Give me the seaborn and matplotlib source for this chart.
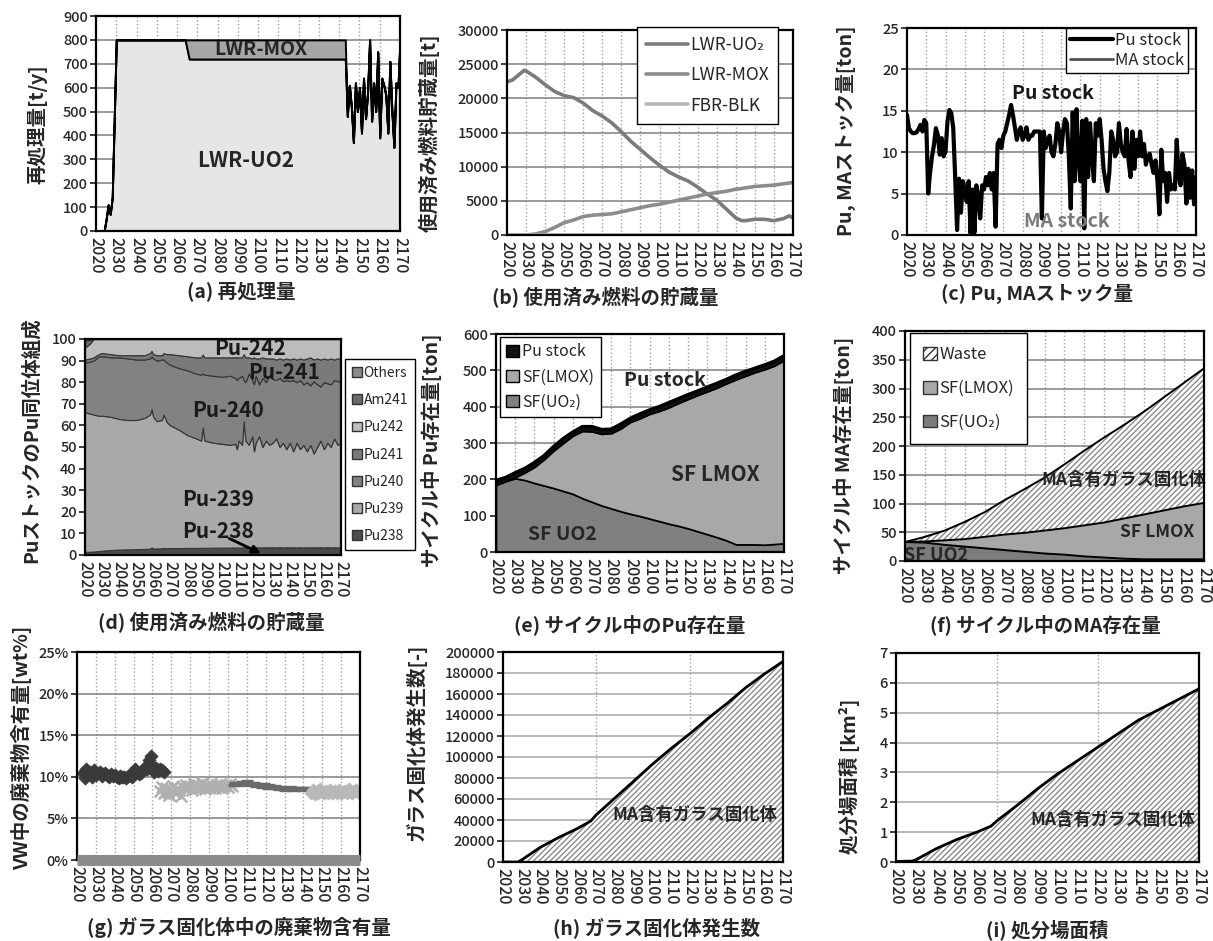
import numpy as np
import matplotlib.pyplot as plt
import seaborn as sns
from matplotlib.patches import Patch

# ---------------- data ----------------
# (a) reprocessing [t/y]
a_years = [2020, 2024, 2025, 2026, 2027, 2028, 2030, 2064, 2066, 2143,
           2144, 2145, 2146, 2147, 2148, 2149, 2150, 2151, 2152, 2153, 2154, 2155, 2156, 2157,
           2158, 2159, 2160, 2161, 2162, 2163, 2164, 2165, 2166, 2167, 2168, 2169, 2170]
a_uo2 = [0, 0, 50, 110, 70, 140, 800, 800, 720, 720,
         480, 610, 520, 370, 620, 500, 600, 410, 640, 470, 580, 800, 460, 620,
         500, 750, 390, 640, 610, 570, 410, 710, 500, 350, 620, 600, 800]
a_mox = [0, 0, 0, 0, 0, 0, 0, 0, 80, 80,
         0, 0, 0, 0, 0, 0, 0, 0, 0, 0, 0, 0, 0, 0,
         0, 0, 0, 0, 0, 0, 0, 0, 0, 0, 0, 0, 0]

# (b) spent fuel storage [t]
b_years = [2020, 2023, 2026, 2029, 2030, 2035, 2040, 2045, 2050, 2055, 2060, 2065, 2070, 2075,
           2080, 2085, 2090, 2095, 2100, 2105, 2110, 2115, 2120, 2125, 2130, 2135, 2140,
           2143, 2145, 2150, 2155, 2160, 2165, 2168, 2170]
b_uo2 = [22400, 22700, 23400, 24100, 24000, 23100, 22000, 21000, 20400, 20100, 19300, 18200,
         17400, 16400, 15100, 13700, 12500, 11300, 10200, 9200, 8500, 7900, 7000, 6000, 5100,
         3800, 2500, 2100, 2100, 2300, 2300, 2100, 2400, 2800, 2500]
b_mox = [0, 0, 0, 0, 0, 150, 500, 1100, 1800, 2200, 2700, 2900, 3000, 3100, 3400, 3700, 4000,
         4300, 4500, 4800, 5100, 5400, 5700, 6000, 6200, 6400, 6700, 6800, 6900, 7100, 7200,
         7300, 7500, 7600, 7700]
b_fbr_years = [2020, 2170]
b_fbr = [0, 0]

# (c) Pu / MA stock [ton], yearly 2020-2170
c_years = list(range(2020, 2171))
c_pu = [14.5, 12.9, 12.5, 12.3, 12.3, 12.4, 12.8, 13.3, 12.5, 13.9,
        13.5, 5.0, 7.6, 9.5, 10.9, 12.9, 12.1, 9.7, 11.7, 9.5,
        10.1, 13.7, 15.1, 14.7, 12.9, 7.0, 0.6, 6.8, 2.7, 6.5,
        5.5, 4.0, 6.5, 0.2, 5.5, 0.3, 6.0, 4.7, 2.0, 6.0,
        5.5, 7.0, 6.0, 7.5, 5.5, 7.5, 1.0, 11.0, 11.5, 10.5,
        12.0, 12.5, 13.5, 14.5, 15.7, 14.5, 13.0, 11.5, 12.5, 13.0,
        11.5, 12.0, 13.0, 11.5, 12.0, 12.0, 12.5, 12.5, 12.5, 12.5,
        2.0, 12.5, 10.5, 11.5, 12.0, 10.0, 9.5, 11.0, 13.5, 12.5,
        10.0, 12.5, 14.0, 13.5, 9.5, 3.2, 14.8, 6.5, 15.2, 9.0,
        6.5, 13.8, 0.8, 14.0, 7.0, 13.5, 9.5, 6.5, 13.5, 12.0,
        14.0, 11.5, 8.0, 6.5, 5.3, 7.5, 12.5, 11.5, 9.5, 10.0,
        13.5, 11.0, 10.0, 9.5, 12.8, 9.0, 7.0, 12.5, 8.0, 11.5,
        9.5, 12.5, 9.5, 11.0, 8.5, 9.5, 9.8, 8.5, 7.5, 9.0,
        6.5, 2.5, 10.3, 6.5, 7.5, 4.0, 7.5, 5.5, 6.0, 5.5,
        11.5, 7.0, 6.0, 9.8, 8.5, 3.8, 8.0, 4.5, 7.8, 3.7, 7.0]
c_ma_years = [2020, 2170]
c_ma = [0.0, 0.0]

# (d) Pu isotope composition of Pu stock [%] (stack boundaries)
d_years = [2020, 2023, 2025, 2028, 2030, 2035, 2040, 2045, 2050, 2055, 2058, 2059, 2060, 2062,
           2065, 2066, 2068, 2070, 2075, 2080, 2085, 2088, 2089, 2090, 2095, 2100, 2105, 2108,
           2109, 2110, 2112, 2113, 2114, 2116, 2118, 2119, 2120, 2122, 2124, 2126, 2128, 2130,
           2132, 2134, 2136, 2138, 2140, 2142, 2144, 2146, 2148, 2150, 2152, 2154, 2156, 2158,
           2160, 2162, 2164, 2166, 2168, 2170]
d_pu238 = [1.5, 1.5, 1.6, 1.8, 2.0, 2.3, 2.5, 2.6, 2.7, 2.8, 2.9, 3.5, 3.0, 3.0, 3.1, 3.2,
           3.1, 3.2, 3.2, 3.3, 3.3, 3.3, 3.4, 3.3, 3.4, 3.4, 3.4, 3.5, 3.4, 3.5, 3.4, 3.6,
           3.4, 3.5, 3.5, 3.4, 3.6, 3.5, 3.5, 3.6, 3.5, 3.6, 3.5, 3.6, 3.5, 3.6, 3.5, 3.6,
           3.5, 3.6, 3.5, 3.6, 3.5, 3.6, 3.5, 3.6, 3.5, 3.6, 3.5, 3.6, 3.5, 3.6]
d_top239 = [66, 65.5, 65, 64.5, 64.5, 64, 63, 62.5, 62.5, 63.5, 65, 67.5, 64, 62, 62.5, 65,
            61.5, 60, 58, 55.5, 54, 53, 59, 53, 52, 51.5, 51, 51.5, 49, 53, 51, 62, 53, 51,
            55, 48, 52, 55, 50, 53, 51, 52, 54, 50, 52, 49, 52, 48, 52, 49, 51, 48, 51, 47,
            50, 53, 49, 52, 50, 54, 51, 52]
d_top240 = [89, 89.5, 90, 92, 92, 91.5, 91.5, 91, 90.5, 90.5, 91, 92, 91, 90, 90.5, 90.5,
            89, 88, 86.5, 85.5, 84, 83.5, 84, 83.5, 83, 82.5, 83, 82, 81, 82, 83, 81, 80, 84,
            81, 79, 83, 79, 82, 80, 83, 81.5, 81, 82, 80.5, 81, 80.5, 81, 80, 81, 79, 80, 78.5,
            80.5, 79, 78, 80, 79.5, 79, 81, 80.5, 80]
d_top241 = [90.5, 91, 91.5, 93, 93.5, 93, 92.5, 92.5, 92.5, 92.5, 93.5, 94.5, 93, 92.5, 92.5,
            93.5, 93, 93, 92.5, 92, 91.5, 91.5, 92.8, 91.5, 91.5, 91.5, 91.5, 91.5, 91.5, 91.5,
            91.5, 93, 91.5, 91.5, 91, 91.5, 91, 91, 91.5, 91, 91, 91, 90.5, 91, 90.5, 91, 90.5,
            91, 90.5, 91, 90.5, 91, 91.5, 90.5, 91, 90.5, 91, 90.5, 91, 90.5, 91, 91]
d_am241 = [3.3, 1.6] + [0.0] * 60
d_others = [0.7, 0.4] + [0.0] * 60

# (e) Pu inventory in cycle [ton]
e_years = [2020, 2025, 2030, 2035, 2040, 2045, 2050, 2055, 2060, 2065, 2070, 2075, 2080, 2085,
           2090, 2095, 2100, 2105, 2110, 2115, 2120, 2125, 2130, 2135, 2140, 2145, 2150, 2155,
           2160, 2165, 2170]
e_uo2 = [185, 195, 203, 198, 190, 183, 176, 168, 160, 148, 138, 128, 120, 112, 105, 99, 92, 85,
         78, 72, 65, 57, 49, 41, 32, 21, 21, 21, 20, 22, 24]
e_lmox = [0, 0, 3, 21, 44, 72, 103, 132, 160, 185, 194, 197, 207, 228, 253, 269, 288, 303, 320,
          338, 356, 375, 393, 411, 432, 454, 464, 474, 483, 491, 504]
e_pu = [12, 10, 12, 11, 12, 10, 11, 12, 10, 12, 13, 12, 11, 12, 10, 12, 11, 12, 13, 12, 12, 11,
        12, 12, 11, 12, 12, 11, 12, 12, 12]

# (f) MA inventory in cycle [ton]
f_years = [2020, 2030, 2040, 2050, 2060, 2070, 2080, 2090, 2100, 2110, 2120, 2130, 2140, 2150,
           2160, 2170]
f_uo2 = [33, 32, 28, 25, 22, 19, 16, 13, 11, 8, 6, 4, 3, 3, 3, 3]
f_lmox = [0, 2, 8, 13, 20, 27, 33, 40, 46, 54, 61, 70, 78, 85, 92, 98]
f_waste = [0, 8, 17, 30, 43, 60, 76, 92, 111, 130, 148, 163, 179, 197, 215, 234]

# (g) waste loading in vitrified waste [wt%]
g1_years = list(range(2023, 2067))
g1 = [10.5, 9.8, 10.9, 10.3, 10.6, 10.0, 10.8, 10.2, 10.4, 10.6, 10.1, 10.3, 10.5, 10.2, 10.0,
      10.3, 10.1, 10.2, 10.0, 9.9, 10.1, 10.0, 10.0, 9.9, 10.1, 10.2, 10.0, 10.4, 10.9, 10.6,
      10.3, 10.5, 10.8, 11.2, 10.9, 12.0, 12.5, 11.3, 10.6, 11.0, 10.7, 10.9, 10.8, 10.6]
g2_years = list(range(2064, 2103))
g2 = [8.3, 8.8, 8.0, 8.6, 8.2, 7.8, 8.5, 8.9, 8.1, 8.6, 8.4, 7.7, 8.8, 8.5, 9.0, 8.6, 8.9, 8.4,
      9.1, 8.7, 9.0, 8.6, 9.2, 8.8, 8.5, 9.0, 8.7, 9.1, 8.8, 8.6, 9.0, 8.8, 9.1, 8.7, 8.9, 9.0,
      8.8, 9.1, 8.9]
g3_years = list(range(2103, 2144))
g3 = [9.0, 9.2, 9.1, 9.3, 9.0, 9.4, 9.2, 9.5, 9.1, 9.3, 9.0, 9.2, 8.9, 9.1, 9.0, 8.8, 9.1, 8.9,
      8.7, 9.0, 8.8, 8.6, 8.9, 8.7, 8.5, 8.8, 8.6, 8.4, 8.7, 8.5, 8.8, 8.6, 8.4, 8.7, 8.5, 8.6,
      8.4, 8.7, 8.5, 8.6, 8.5]
g4_years = list(range(2144, 2170))
g4 = [8.1, 8.4, 7.9, 8.3, 8.0, 8.5, 8.2, 8.0, 8.3, 8.1, 8.4, 8.0, 8.2, 8.3, 8.1, 8.4, 8.0, 8.2,
      8.3, 8.1, 8.5, 8.2, 8.0, 8.3, 8.4, 8.2]
g0_years = [2020, 2170]
g0 = [0.0, 0.0]

# (h) number of vitrified waste canisters, (i) repository area [km2]
hi_years = [2020, 2028, 2030, 2040, 2050, 2060, 2067, 2070, 2080, 2090, 2100, 2110, 2120, 2130,
            2140, 2150, 2160, 2170]
h_count = [0, 0, 2000, 14000, 23500, 32000, 39000, 45000, 61000, 77000, 93000, 108000, 122000,
           137000, 151000, 166000, 179000, 191000]
i_area = [0.02, 0.03, 0.08, 0.45, 0.75, 1.0, 1.2, 1.38, 1.9, 2.45, 2.95, 3.4, 3.85, 4.3, 4.75,
          5.1, 5.45, 5.8]

# ---------------- style ----------------
sns.set_theme(style="white")
plt.rcParams['font.family'] = ['Noto Sans CJK JP', 'DejaVu Sans']
plt.rcParams['hatch.linewidth'] = 1.0
JP = ['Noto Sans CJK JP', 'DejaVu Sans']

W, H = 1213, 941
fig = plt.figure(figsize=(W / 100, H / 100), dpi=100)
fig.patch.set_facecolor('white')


def add_ax(x0, y0, x1, y1):
    return fig.add_axes([x0 / W, 1 - y1 / H, (x1 - x0) / W, (y1 - y0) / H])


def ftext(x, y, s, size=14, rot=0, **kw):
    fig.text(x / W, 1 - y / H, s, ha='center', va='center', fontsize=size,
             fontweight='bold', rotation=rot, zorder=10, **kw)


def style(ax, ymax, ystep, vstep=10, hcol='#7f7f7f'):
    ax.set_xlim(2020, 2170)
    ax.set_ylim(0, ymax)
    yrs = np.arange(2020, 2171, 10)
    ax.set_xticks(yrs)
    ax.set_xticklabels([str(y) for y in yrs], rotation=-90, fontsize=11.5, fontweight='medium')
    ax.set_yticks(np.arange(0, ymax + ystep / 2, ystep))
    for t in ax.get_yticklabels():
        t.set_fontweight('medium')
    ax.tick_params(axis='x', direction='in', length=4, pad=4, color='#555555')
    ax.tick_params(axis='y', direction='out', length=4, labelsize=10.5, pad=2, left=True)
    ax.set_axisbelow(True)
    ax.yaxis.grid(True, color=hcol, lw=1.1, ls='-')
    for yr in range(2020 + vstep, 2170, vstep):
        ax.axvline(yr, color='#a0a0a0', ls=':', lw=1.0, zorder=0.5)
    for sp in ax.spines.values():
        sp.set_color('black')
        sp.set_linewidth(1.6)
        sp.set_zorder(5)
    ax.set_xlabel('')
    ax.set_ylabel('')


def leg_kw(size):
    return dict(frameon=True, fancybox=False, framealpha=1, edgecolor='black',
                prop={'family': JP, 'size': size})


# ---------------- (a) ----------------
ax = add_ax(96, 16, 400, 231)
ax.stackplot(a_years, a_uo2, a_mox, colors=['#e6e6e6', '#a6a6a6'],
             edgecolor='black', linewidth=1.4, zorder=2)
style(ax, 900, 100)
ax.text(2101.5, 758, 'LWR-MOX', ha='center', va='center', fontsize=14, fontweight='bold', zorder=4)
ax.text(2094, 297, 'LWR-UO2', ha='center', va='center', fontsize=15, fontweight='bold', zorder=4)
ftext(37, 124, '再処理量[t/y]', rot=90)
ftext(241, 291, '(a) 再処理量')

# ---------------- (b) ----------------
ax = add_ax(507, 30, 793, 235)
sns.lineplot(x=b_years, y=b_uo2, ax=ax, color='#7b7b7b', lw=2.6, label='LWR-UO₂', estimator=None)
sns.lineplot(x=b_years, y=b_mox, ax=ax, color='#8c8c8c', lw=2.6, label='LWR-MOX', estimator=None)
sns.lineplot(x=b_fbr_years, y=b_fbr, ax=ax, color='#b8b8b8', lw=2.6, label='FBR-BLK', estimator=None)
style(ax, 30000, 5000)
ax.legend(loc='upper right', bbox_to_anchor=(0.948, 1.016), borderaxespad=0,
          handlelength=2.4, handletextpad=0.1, labelspacing=0.7, borderpad=0.55, **leg_kw(12.5))
ftext(429, 133, '使用済み燃料貯蔵量[t]', rot=90)
ftext(605, 298, '(b) 使用済み燃料の貯蔵量')

# ---------------- (c) ----------------
ax = add_ax(907, 28, 1196, 235)
sns.lineplot(x=c_years, y=c_pu, ax=ax, color='black', lw=3.0, label='Pu stock', estimator=None)
sns.lineplot(x=c_ma_years, y=c_ma, ax=ax, color='#505050', lw=2.0, label='MA stock', estimator=None)
style(ax, 25, 5)
ax.legend(loc='upper right', bbox_to_anchor=(0.973, 1.0), borderaxespad=0,
          handlelength=2.6, handletextpad=0.1, labelspacing=0.15, borderpad=0.25, **leg_kw(12))
ax.text(2096, 17.1, 'Pu stock', ha='center', va='center', fontsize=14, fontweight='bold', color='#1a1a1a')
ax.text(2103, 1.6, 'MA stock', ha='center', va='center', fontsize=14, fontweight='bold', color='#7a7a7a')
ftext(846, 131, 'Pu, MAストック量[ton]', rot=90)
ftext(1037, 294, '(c) Pu, MAストック量')

# ---------------- (d) ----------------
ax = add_ax(85, 339, 341, 555)
pu238 = np.array(d_pu238)
pu239 = np.array(d_top239) - pu238
pu240 = np.array(d_top240) - np.array(d_top239)
pu241 = np.array(d_top241) - np.array(d_top240)
am241 = np.array(d_am241)
others = np.array(d_others)
pu242 = 100 - np.array(d_top241) - am241 - others
d_cols = ['#4b4b4b', '#a9a9a9', '#828282', '#7a7a7a', '#bcbcbc', '#6a6a6a', '#8a8a8a']
d_names = ['Pu238', 'Pu239', 'Pu240', 'Pu241', 'Pu242', 'Am241', 'Others']
ax.stackplot(d_years, pu238, pu239, pu240, pu241, pu242, am241, others,
             colors=d_cols, edgecolor='#333333', linewidth=0.8, zorder=2)
style(ax, 100, 10)
for lbl, x, y in [('Pu-242', 2116.7, 95.7), ('Pu-241', 2136.6, 84.4), ('Pu-240', 2103.8, 66.8),
                  ('Pu-239', 2098, 25.5), ('Pu-238', 2098, 10.8)]:
    ax.text(x, y, lbl, ha='center', va='center', fontsize=15, fontweight='bold', zorder=4, color='#1a1a1a')
ax.annotate('', xy=(2124.5, 0.2), xytext=(2103, 8.2), zorder=4,
            arrowprops=dict(arrowstyle='-|>', color='black', lw=2, mutation_scale=12))
handles = [Patch(facecolor=c, edgecolor='#333333', label=n) for c, n in zip(d_cols, d_names)][::-1]
fig.legend(handles=handles, loc='upper left', bbox_to_anchor=(345 / W, 1 - 359 / H),
           borderaxespad=0, handlelength=0.7, handleheight=0.7, handletextpad=0.15,
           labelspacing=0.95, borderpad=0.5, **leg_kw(10))
ftext(31, 440, 'PuストックのPu同位体組成', rot=90)
ftext(211, 623, '(d) 使用済み燃料の貯蔵量')

# ---------------- (e) ----------------
ax = add_ax(496, 334, 784, 552)
ax.stackplot(e_years, e_uo2, e_lmox, e_pu, colors=['#808080', '#a8a8a8', '#111111'],
             edgecolor='black', linewidth=1.2, zorder=2)
e_total = np.array(e_uo2) + np.array(e_lmox) + np.array(e_pu)
sns.lineplot(x=e_years, y=e_total, ax=ax, color='black', lw=2.5, estimator=None, zorder=3)
style(ax, 600, 100)
ax.legend(handles=[Patch(facecolor='#111111', edgecolor='black', label='Pu stock'),
                   Patch(facecolor='#a8a8a8', edgecolor='black', label='SF(LMOX)'),
                   Patch(facecolor='#808080', edgecolor='black', label='SF(UO₂)')],
          loc='upper left', bbox_to_anchor=(0.014, 0.986), borderaxespad=0,
          handlelength=0.8, handleheight=0.8, handletextpad=0.2, labelspacing=0.5,
          borderpad=0.4, **leg_kw(11.5))
ax.text(2108, 473, 'Pu stock', ha='center', va='center', fontsize=14, fontweight='bold', zorder=4)
ax.text(2134, 212, 'SF LMOX', ha='center', va='center', fontsize=15, fontweight='bold', zorder=4)
ax.text(2054.5, 47, 'SF UO2', ha='center', va='center', fontsize=14, fontweight='bold', zorder=4)
ftext(432, 450, 'サイクル中 Pu存在量[ton]', rot=90)
ftext(630, 625, '(e) サイクル中のPu存在量')

# ---------------- (f) ----------------
ax = add_ax(905, 331, 1204, 561)
polys = ax.stackplot(f_years, f_uo2, f_lmox, f_waste, colors=['#7c7c7c', '#a8a8a8', 'white'],
                     edgecolor='none', linewidth=0, zorder=2)
polys[2].set_hatch('//////')
polys[2].set_edgecolor('#8a8a8a')
f_c1 = np.array(f_uo2)
f_c2 = f_c1 + np.array(f_lmox)
f_c3 = f_c2 + np.array(f_waste)
for cum in (f_c1, f_c2, f_c3):
    sns.lineplot(x=f_years, y=cum, ax=ax, color='black', lw=1.4, estimator=None, zorder=3)
style(ax, 400, 50)
ax.legend(handles=[Patch(facecolor='white', edgecolor='#333333', hatch='////', label='Waste'),
                   Patch(facecolor='#a8a8a8', edgecolor='#333333', label='SF(LMOX)'),
                   Patch(facecolor='#7c7c7c', edgecolor='#333333', label='SF(UO₂)')],
          loc='upper left', bbox_to_anchor=(0.017, 0.991), borderaxespad=0,
          handlelength=0.8, handleheight=0.8, handletextpad=0.15, labelspacing=1.0,
          borderpad=0.8, **leg_kw(12))
ax.text(2130, 141, 'MA含有ガラス固化体', ha='center', va='center', fontsize=12.5, fontweight='bold', zorder=4)
ax.text(2146.7, 51, 'SF LMOX', ha='center', va='center', fontsize=12.5, fontweight='bold', zorder=4)
ax.text(2035.6, 8.7, 'SF UO2', ha='center', va='center', fontsize=13, fontweight='bold', zorder=4)
ftext(843, 455, 'サイクル中 MA存在量[ton]', rot=90)
ftext(1045, 625, '(f) サイクル中のMA存在量')

# ---------------- (g) ----------------
ax = add_ax(77, 652, 360, 860)
sns.lineplot(x=g0_years, y=g0, ax=ax, color='#8c8c8c', lw=8, estimator=None, zorder=6,
             clip_on=False, solid_capstyle='butt')
sns.scatterplot(x=g1_years, y=g1, ax=ax, marker='D', s=45, color='#3a3a3a', edgecolor='#3a3a3a', zorder=3)
sns.scatterplot(x=g2_years, y=g2, ax=ax, marker='x', s=70, color='#b0b0b0', linewidth=1.8, zorder=3)
sns.scatterplot(x=g3_years, y=g3, ax=ax, marker='_', s=80, color='#6a6a6a', linewidth=2.4, zorder=3)
sns.scatterplot(x=g4_years, y=g4, ax=ax, marker='D', s=45, color='#b8b8b8', edgecolor='#b8b8b8', zorder=3)
style(ax, 25, 5)
ax.set_yticklabels([f'{v}%' for v in range(0, 26, 5)], fontweight='medium')
ftext(22, 748, 'VW中の廃棄物含有量[wt%]', rot=90)
ftext(239, 927, '(g) ガラス固化体中の廃棄物含有量')

# ---------------- (h) ----------------
ax = add_ax(503, 652, 783, 862)
ax.fill_between(hi_years, 0, h_count, facecolor='white', edgecolor='#8a8a8a',
                hatch='//////', linewidth=0, zorder=2)
sns.lineplot(x=hi_years, y=h_count, ax=ax, color='black', lw=2.0, estimator=None, zorder=3)
style(ax, 200000, 20000, vstep=50, hcol='#a8a8a8')
ax.text(2122.8, 44760, 'MA含有ガラス固化体', ha='center', va='center', fontsize=12.5, fontweight='bold', zorder=4)
ftext(416, 742, 'ガラス固化体発生数[-]', rot=90)
ftext(657, 928, '(h) ガラス固化体発生数')

# ---------------- (i) ----------------
ax = add_ax(896, 653, 1199, 862)
ax.fill_between(hi_years, 0, i_area, facecolor='white', edgecolor='#8a8a8a',
                hatch='//////', linewidth=0, zorder=2)
sns.lineplot(x=hi_years, y=i_area, ax=ax, color='black', lw=2.0, estimator=None, zorder=3)
style(ax, 7, 1, vstep=50, hcol='#a8a8a8')
ax.text(2127.4, 1.41, 'MA含有ガラス固化体', ha='center', va='center', fontsize=12.5, fontweight='bold', zorder=4)
ftext(849, 776, '処分場面積 [km²]', rot=90, family=JP)
ftext(1047, 930, '(i) 処分場面積')

fig.savefig('out.png', dpi=100)
